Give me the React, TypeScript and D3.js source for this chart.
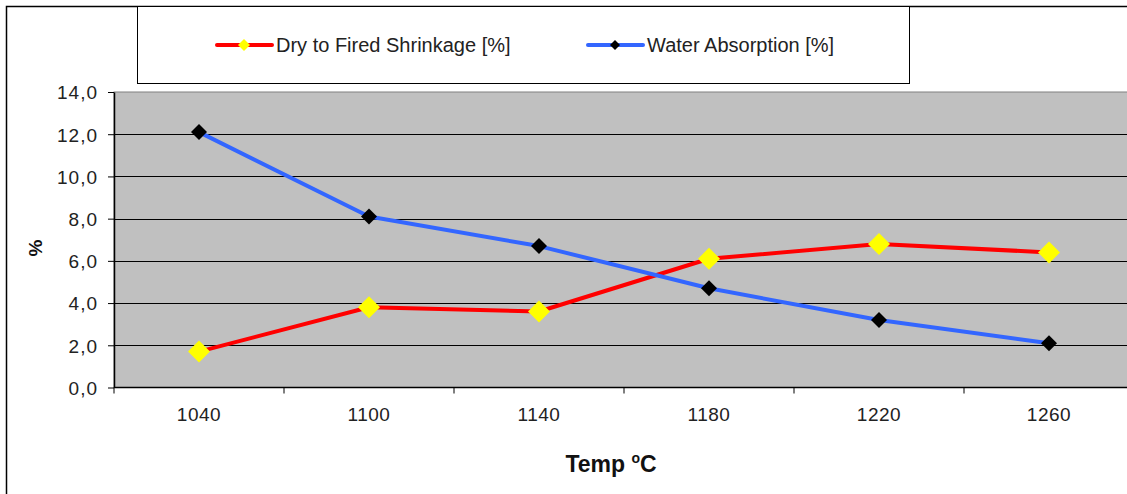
import React, { useEffect, useRef } from 'react';
import * as d3 from 'd3';

const temps = ['1040', '1100', '1140', '1180', '1220', '1260'];
const shrinkage = [1.7, 3.8, 3.6, 6.1, 6.8, 6.4];
const absorption = [12.1, 8.1, 6.7, 4.7, 3.2, 2.1];
const yTicks = [0, 2, 4, 6, 8, 10, 12, 14];

const seriesNames = ['Dry to Fired Shrinkage [%]', 'Water Absorption [%]'];

const W = 1127;
const H = 494;

const App: React.FC = () => {
  const svgRef = useRef<SVGSVGElement>(null);

  useEffect(() => {
    if (!svgRef.current) return;
    const svg = d3.select(svgRef.current);
    svg.selectAll('*').remove();

    const font = 'Arial, "Liberation Sans", sans-serif';
    const left = 114;
    const right = 1134;
    const top = 92;
    const bottom = 387.5;

    // outer chart border
    svg.append('rect')
      .attr('x', 6.5).attr('y', 6.5)
      .attr('width', 1200).attr('height', 600)
      .attr('fill', 'white').attr('stroke', '#000').attr('stroke-width', 1.5);

    const x = d3.scaleBand<string>().domain(temps).range([left, right]);
    const y = d3.scaleLinear().domain([0, 14]).range([bottom, top]);

    // plot area
    svg.append('rect')
      .attr('x', left).attr('y', top)
      .attr('width', right - left).attr('height', bottom - top)
      .attr('fill', '#c0c0c0').attr('stroke', '#808080').attr('stroke-width', 1);

    // gridlines
    svg.append('g')
      .selectAll('line')
      .data(yTicks.filter(t => t > 0 && t < 14))
      .enter()
      .append('line')
      .attr('x1', left).attr('x2', right)
      .attr('y1', d => Math.round(y(d)) + 0.5).attr('y2', d => Math.round(y(d)) + 0.5)
      .attr('stroke', '#000').attr('stroke-width', 1);

    // y axis
    const yAxis = svg.append('g')
      .attr('transform', `translate(${left},0)`)
      .call(
        d3.axisLeft(y)
          .tickValues(yTicks)
          .tickSize(6)
          .tickSizeOuter(0)
          .tickFormat(d => (d as number).toFixed(1).replace('.', ','))
      );
    yAxis.attr('font-size', null).attr('font-family', null);
    yAxis.select('.domain').attr('stroke', '#000').attr('stroke-width', 1.5);
    yAxis.selectAll('.tick line').attr('stroke', '#000');
    yAxis.selectAll('.tick text')
      .attr('font-family', font).attr('font-size', 19).attr('fill', '#222')
      .attr('letter-spacing', 1)
      .attr('x', -16).attr('dy', '0.36em');

    // x axis
    const xBoundaries = temps.map(t => x(t) as number).concat([right]);
    const xAxis = svg.append('g').attr('transform', `translate(0,${bottom})`);
    xAxis.append('line')
      .attr('x1', left).attr('x2', right).attr('y1', 0).attr('y2', 0)
      .attr('stroke', '#000').attr('stroke-width', 1.5);
    xAxis.selectAll('line.tick')
      .data(xBoundaries)
      .enter()
      .append('line')
      .attr('class', 'tick')
      .attr('x1', d => d).attr('x2', d => d)
      .attr('y1', 0).attr('y2', 6)
      .attr('stroke', '#000');
    xAxis.selectAll('text')
      .data(temps)
      .enter()
      .append('text')
      .attr('x', d => (x(d) as number) + x.bandwidth() / 2)
      .attr('y', 33)
      .attr('text-anchor', 'middle')
      .attr('font-family', font).attr('font-size', 19).attr('fill', '#222')
      .attr('letter-spacing', 0.5)
      .text(d => d);

    // axis titles
    const xt = svg.append('text')
      .attr('x', 611).attr('y', 472)
      .attr('text-anchor', 'middle')
      .attr('font-family', font).attr('font-size', 23).attr('font-weight', 'bold').attr('fill', '#111');
    xt.append('tspan').text('Temp ');
    xt.append('tspan').attr('font-size', 14).attr('dy', -9).text('o');
    xt.append('tspan').attr('dy', 9).text('C');

    svg.append('text')
      .attr('transform', 'translate(42,248) rotate(-90)')
      .attr('text-anchor', 'middle')
      .attr('font-family', font).attr('font-size', 19).attr('font-weight', 'bold').attr('fill', '#111')
      .text('%');

    // series
    const series = [
      { name: seriesNames[0], values: shrinkage, line: '#ff0000', marker: '#ffff00', size: 11 },
      { name: seriesNames[1], values: absorption, line: '#3366ff', marker: '#000000', size: 8 },
    ];

    const lineGen = d3.line<number>()
      .x((_, i) => (x(temps[i]) as number) + x.bandwidth() / 2)
      .y(d => y(d));

    series.forEach(s => {
      svg.append('path')
        .datum(s.values)
        .attr('d', lineGen)
        .attr('fill', 'none')
        .attr('stroke', s.line)
        .attr('stroke-width', 4)
        .attr('stroke-linejoin', 'round');
    });

    series.forEach(s => {
      svg.append('g')
        .selectAll('path')
        .data(s.values)
        .enter()
        .append('path')
        .attr('transform', (d, i) =>
          `translate(${(x(temps[i]) as number) + x.bandwidth() / 2},${y(d)})`)
        .attr('d', `M0,${-s.size}L${s.size},0L0,${s.size}L${-s.size},0Z`)
        .attr('fill', s.marker);
    });

    // legend
    svg.append('rect')
      .attr('x', 137.5).attr('y', 6.5)
      .attr('width', 772).attr('height', 77)
      .attr('fill', 'white').attr('stroke', '#000').attr('stroke-width', 1);

    const legendX = [217, 588];
    series.forEach((s, i) => {
      const g = svg.append('g').attr('transform', `translate(${legendX[i]},45)`);
      g.append('line')
        .attr('x1', 0).attr('x2', 55).attr('y1', 0).attr('y2', 0)
        .attr('stroke', s.line).attr('stroke-width', 4).attr('stroke-linecap', 'round');
      const m = i === 0 ? 6 : 5;
      g.append('path')
        .attr('d', `M${27},${-m}L${27 + m},0L27,${m}L${27 - m},0Z`)
        .attr('fill', s.marker);
      g.append('text')
        .attr('x', 59).attr('y', 7)
        .attr('font-family', font).attr('font-size', 20).attr('fill', '#222')
        .text(s.name);
    });
  }, []);

  return (
    <svg
      ref={svgRef}
      width={W}
      height={H}
      style={{ position: 'absolute', left: 0, top: 0, background: 'white' }}
    />
  );
};

export default App;
